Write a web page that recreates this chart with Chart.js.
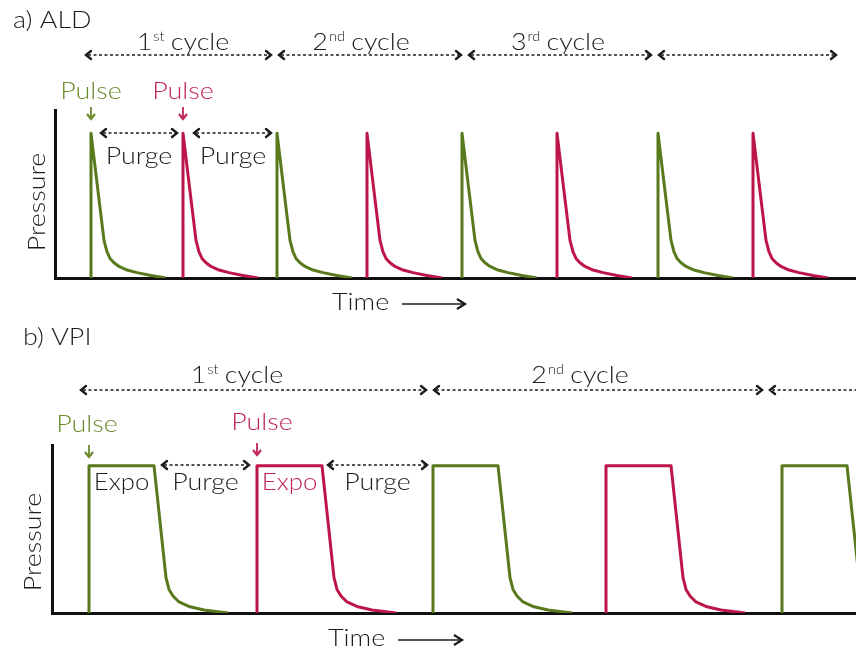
<!DOCTYPE html>
<html lang="en">
<head>
<meta charset="UTF-8">
<title>ALD vs VPI pressure pulses</title>
<script src="https://cdn.jsdelivr.net/npm/chart.js"></script>
<style>
    html, body { margin: 0; padding: 0; background: #fff; }
    canvas { position: absolute; left: 0; }
    #aldChart { top: 0; }
    #vpiChart { top: 326px; }
</style>
</head>
<body>
<canvas id="aldChart" width="856" height="326"></canvas>
<canvas id="vpiChart" width="856" height="326"></canvas>

<script>
    // one ALD dose: time offset from valve opening, pressure in % of peak
    const aldPulseTime = [0, 0, 7, 13, 16, 19, 23, 28, 36, 46, 60, 75];
    const aldPulsePressure = [0, 100, 60, 26, 18, 13.5, 10.5, 8, 5.5, 3.7, 1.7, 0];
    const aldPulseStarts = [36, 128, 222, 312, 407, 502, 603, 698];

    // one VPI dose: pressure held during exposure, then pumped away
    const vpiPulseTime = [0, 0, 65, 71, 77, 80, 84, 90, 101, 115, 139];
    const vpiPulsePressure = [0, 100, 100, 62, 24, 16, 11.5, 7.5, 4.2, 2, 0];
    const vpiPulseStarts = [37, 205, 381, 554, 730];

    // precursors alternate: first one green, second one red
    const precursorColors = ['#587a1c', '#be1548'];
    const labelColors = ['#6a8a2c', '#c02457'];

    const INK = '#1c1c1c';
    const FONT = 'Lato, "Open Sans", sans-serif';
    const WEIGHT = 300;
    const STRETCH = 1.12;

    function pulseDatasets(starts, times, pressures) {
        return starts.map((start, n) => ({
            data: times.map((t, i) => ({ x: start + t, y: pressures[i] })),
            borderColor: precursorColors[n % 2],
            borderWidth: 3,
            pointRadius: 0,
            tension: 0,
            borderJoinStyle: 'round',
            fill: false
        }));
    }

    function fontOf(size) {
        return WEIGHT + ' ' + size + 'px ' + FONT;
    }

    function text(ctx, str, x, y, size, color, align = 'center') {
        ctx.save();
        ctx.font = fontOf(size);
        ctx.fillStyle = color;
        ctx.textAlign = 'left';
        ctx.textBaseline = 'alphabetic';
        const w = ctx.measureText(str).width * STRETCH;
        const left = align === 'center' ? x - w / 2 : (align === 'right' ? x - w : x);
        ctx.translate(left, y);
        ctx.scale(STRETCH, 1);
        ctx.fillText(str, 0, 0);
        ctx.restore();
        return w;
    }

    function textWidth(ctx, str, size) {
        ctx.save();
        ctx.font = fontOf(size);
        const w = ctx.measureText(str).width * STRETCH;
        ctx.restore();
        return w;
    }

    function cycleText(ctx, num, sup, cx, y) {
        const wNum = textWidth(ctx, num, 24);
        const wSup = textWidth(ctx, sup, 13);
        const wRest = textWidth(ctx, ' cycle', 24);
        const x = cx - (wNum + wSup + wRest) / 2;
        text(ctx, num, x, y, 24, INK, 'left');
        text(ctx, sup, x + wNum + 1, y - 9, 13, INK, 'left');
        text(ctx, ' cycle', x + wNum + wSup, y, 24, INK, 'left');
    }

    function dottedArrow(ctx, x1, x2, y) {
        ctx.save();
        ctx.strokeStyle = INK;
        ctx.lineWidth = 1.3;
        ctx.setLineDash([3, 2.5]);
        ctx.beginPath();
        ctx.moveTo(x1 + 3, y);
        ctx.lineTo(x2 - 3, y);
        ctx.stroke();
        ctx.setLineDash([]);
        ctx.lineWidth = 2.4;
        ctx.lineCap = 'round';
        ctx.beginPath();
        ctx.moveTo(x1 + 6, y - 4); ctx.lineTo(x1 + 1, y); ctx.lineTo(x1 + 6, y + 4);
        ctx.moveTo(x2 - 6, y - 4); ctx.lineTo(x2 - 1, y); ctx.lineTo(x2 - 6, y + 4);
        ctx.stroke();
        ctx.restore();
    }

    function downArrow(ctx, x, y1, y2, color) {
        ctx.save();
        ctx.strokeStyle = color;
        ctx.lineWidth = 1.8;
        ctx.beginPath();
        ctx.moveTo(x, y1);
        ctx.lineTo(x, y2);
        ctx.stroke();
        ctx.lineWidth = 2.2;
        ctx.beginPath();
        ctx.moveTo(x - 4, y2 - 5); ctx.lineTo(x, y2); ctx.lineTo(x + 4, y2 - 5);
        ctx.stroke();
        ctx.restore();
    }

    function timeLabel(ctx, x, y, arrowFrom, arrowTo, arrowY) {
        text(ctx, 'Time', x, y, 24, INK, 'left');
        ctx.save();
        ctx.strokeStyle = INK;
        ctx.lineWidth = 1.5;
        ctx.beginPath();
        ctx.moveTo(arrowFrom, arrowY);
        ctx.lineTo(arrowTo, arrowY);
        ctx.stroke();
        ctx.lineWidth = 2.2;
        ctx.beginPath();
        ctx.moveTo(arrowTo - 8, arrowY - 5); ctx.lineTo(arrowTo, arrowY); ctx.lineTo(arrowTo - 8, arrowY + 5);
        ctx.stroke();
        ctx.restore();
    }

    function pressureLabel(ctx, cx, cy) {
        ctx.save();
        ctx.translate(cx, cy);
        ctx.rotate(-Math.PI / 2);
        text(ctx, 'Pressure', 0, 8, 24, INK);
        ctx.restore();
    }

    function cycleArrows(ctx, bounds, y) {
        for (let i = 0; i < bounds.length - 1; i++) {
            dottedArrow(ctx, bounds[i] + 3, bounds[i + 1] - 3, y);
        }
    }

    const aldNotes = {
        id: 'aldNotes',
        afterDraw(chart) {
            const ctx = chart.ctx;
            const X = v => chart.scales.x.getPixelForValue(v);
            const s = aldPulseStarts;

            text(ctx, 'a) ALD', 13, 28, 24, INK, 'left');

            cycleArrows(ctx, [82, 275, 465, 655, 840], 55);
            cycleText(ctx, '1', 'st', 183, 50);
            cycleText(ctx, '2', 'nd', 361, 50);
            cycleText(ctx, '3', 'rd', 558, 50);

            text(ctx, 'Pulse', X(s[0]), 99, 24, labelColors[0]);
            text(ctx, 'Pulse', X(s[1]), 99, 24, labelColors[1]);
            downArrow(ctx, X(s[0]), 107, 119, labelColors[0]);
            downArrow(ctx, X(s[1]), 107, 119, labelColors[1]);

            dottedArrow(ctx, X(s[0]) + 9, X(s[1]) - 5, 133);
            dottedArrow(ctx, X(s[1]) + 10, X(s[2]) - 5, 133);
            text(ctx, 'Purge', (X(s[0]) + X(s[1])) / 2 + 2, 164, 24, INK);
            text(ctx, 'Purge', (X(s[1]) + X(s[2])) / 2 + 3, 164, 24, INK);

            pressureLabel(ctx, 37, 202);
            timeLabel(ctx, 332, 310, 402, 465, 304);
        }
    };

    const vpiNotes = {
        id: 'vpiNotes',
        afterDraw(chart) {
            const ctx = chart.ctx;
            const X = v => chart.scales.x.getPixelForValue(v);
            const s = vpiPulseStarts;
            const expoEnd = vpiPulseTime[2];

            text(ctx, 'b) VPI', 23, 19, 24, INK, 'left');

            cycleArrows(ctx, [77, 430, 766, 900], 64);
            cycleText(ctx, '1', 'st', 237, 57);
            cycleText(ctx, '2', 'nd', 580, 57);

            text(ctx, 'Pulse', X(s[0]) - 2, 106, 24, labelColors[0]);
            text(ctx, 'Pulse', X(s[1]) + 5, 104, 24, labelColors[1]);
            downArrow(ctx, X(s[0]), 119, 131, labelColors[0]);
            downArrow(ctx, X(s[1]), 117, 129, labelColors[1]);

            text(ctx, 'Expo', X(s[0] + expoEnd / 2), 164, 23, INK);
            text(ctx, 'Expo', X(s[1] + expoEnd / 2), 164, 23, labelColors[1]);

            dottedArrow(ctx, X(s[0] + expoEnd) + 7, X(s[1]) - 7, 139);
            dottedArrow(ctx, X(s[1] + expoEnd) + 5, X(s[2]) - 5, 139);
            text(ctx, 'Purge', (X(s[0] + expoEnd) + X(s[1])) / 2, 164, 24, INK);
            text(ctx, 'Purge', (X(s[1] + expoEnd) + X(s[2])) / 2, 164, 24, INK);

            pressureLabel(ctx, 33, 216);
            timeLabel(ctx, 328, 320, 398, 462, 314);
        }
    };

    function axes(xMax, yMax) {
        const common = {
            type: 'linear',
            min: 0,
            grid: { display: false, drawTicks: false },
            ticks: { display: false },
            border: { display: true, color: '#111', width: 3 }
        };
        return {
            x: Object.assign({}, common, { max: xMax }),
            y: Object.assign({}, common, { max: yMax })
        };
    }

    function baseOptions(padding, xMax, yMax) {
        return {
            responsive: false,
            animation: false,
            layout: { padding: padding },
            scales: axes(xMax, yMax),
            plugins: { legend: { display: false }, tooltip: { enabled: false } }
        };
    }

    new Chart(document.getElementById('aldChart'), {
        type: 'line',
        data: { datasets: pulseDatasets(aldPulseStarts, aldPulseTime, aldPulsePressure) },
        options: baseOptions({ left: 55, top: 110, right: 0, bottom: 48 }, 801, 116),
        plugins: [aldNotes]
    });

    new Chart(document.getElementById('vpiChart'), {
        type: 'line',
        data: { datasets: pulseDatasets(vpiPulseStarts, vpiPulseTime, vpiPulsePressure) },
        options: baseOptions({ left: 52, top: 119, right: 0, bottom: 39 }, 804, 114),
        plugins: [vpiNotes]
    });
</script>
</body>
</html>
